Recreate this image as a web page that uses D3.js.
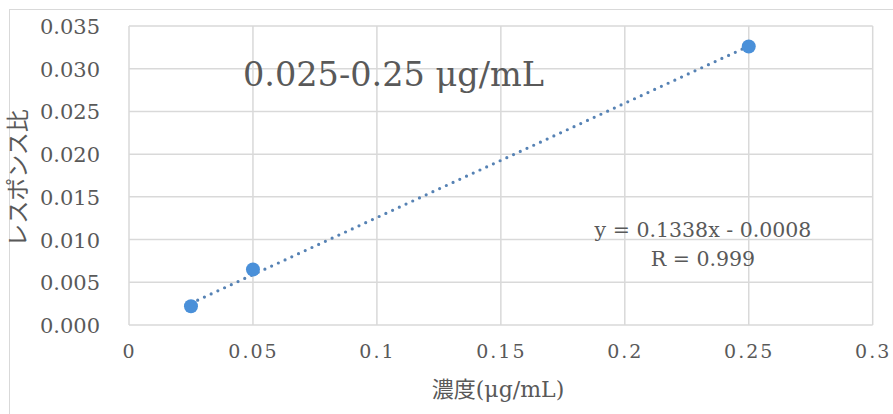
<!DOCTYPE html>
<html>
<head>
<meta charset="utf-8">
<script src="https://cdn.jsdelivr.net/npm/d3@7"></script>
<style>
  body { margin: 0; background: #fff; }
  text { fill: #595959; }
</style>
</head>
<body>
<svg id="chart"></svg>
<script>
// concentration (ug/mL) and response ratio
const concentrations = [0.025, 0.05, 0.25];
const responseRatios = [0.0022, 0.0065, 0.0326];
const xTicks = [0, 0.05, 0.1, 0.15, 0.2, 0.25, 0.3];
const yTicks = [0, 0.005, 0.010, 0.015, 0.020, 0.025, 0.030, 0.035];
const slope = 0.1338;
const intercept = -0.0008;

const width = 893, height = 414;
const margin = {top: 26, right: 20, bottom: 89, left: 129};
const serif = "'DejaVu Serif', 'Liberation Serif', serif";

const svg = d3.select('#chart')
    .attr('width', width)
    .attr('height', height);

// outer chart frame
svg.append('rect')
    .attr('x', 9.5).attr('y', 9.5)
    .attr('width', width).attr('height', height)
    .attr('fill', 'none')
    .attr('stroke', '#d9d9d9');

const x = d3.scaleLinear()
    .domain([0, 0.3])
    .range([margin.left, width - margin.right - 0.3]);
const y = d3.scaleLinear()
    .domain([0, 0.035])
    .range([height - margin.bottom, margin.top]);

// gridlines
svg.append('g').selectAll('line')
    .data(xTicks)
    .join('line')
    .attr('x1', d => x(d)).attr('x2', d => x(d))
    .attr('y1', y(0)).attr('y2', y(0.035))
    .attr('stroke', '#d9d9d9').attr('stroke-width', 1.5);
svg.append('g').selectAll('line')
    .data(yTicks)
    .join('line')
    .attr('x1', x(0)).attr('x2', x(0.3))
    .attr('y1', d => y(d)).attr('y2', d => y(d))
    .attr('stroke', '#d9d9d9').attr('stroke-width', 1.5);

// axes (labels only)
const xAxis = svg.append('g')
    .attr('transform', `translate(0, ${y(0)})`)
    .call(d3.axisBottom(x).tickValues(xTicks).tickSize(0).tickPadding(20)
        .tickFormat(d => d3.format('~g')(d)));
const yAxis = svg.append('g')
    .attr('transform', `translate(${x(0) - 29}, 0)`)
    .call(d3.axisLeft(y).tickValues(yTicks).tickSize(0).tickPadding(0)
        .tickFormat(d3.format('.3f')));
[xAxis, yAxis].forEach(a => {
    a.select('.domain').remove();
    a.selectAll('text')
        .attr('font-family', serif)
        .attr('fill', '#595959');
});
yAxis.selectAll('text').attr('font-size', 21).attr('dy', '0.36em');
xAxis.selectAll('text').attr('font-size', 19).attr('letter-spacing', 2);

// trendline
svg.append('line')
    .attr('x1', x(concentrations[0]))
    .attr('y1', y(slope * concentrations[0] + intercept))
    .attr('x2', x(concentrations[2]))
    .attr('y2', y(slope * concentrations[2] + intercept))
    .attr('stroke', '#5682b4')
    .attr('stroke-width', 3.2)
    .attr('stroke-linecap', 'round')
    .attr('stroke-dasharray', '0 7.4');

// points
svg.append('g').selectAll('circle')
    .data(concentrations)
    .join('circle')
    .attr('cx', d => x(d))
    .attr('cy', (d, i) => y(responseRatios[i]))
    .attr('r', 7)
    .attr('fill', '#4a90d9');

// range label
svg.append('text')
    .attr('x', 243).attr('y', 86)
    .attr('font-family', serif)
    .attr('font-size', 33.5)
    .text('0.025-0.25 μg/mL');

// regression equation
const eq = svg.append('text')
    .attr('text-anchor', 'middle')
    .attr('font-family', serif)
    .attr('font-size', 20.5);
eq.append('tspan').attr('x', 703).attr('y', 237).text('y = 0.1338x - 0.0008');
eq.append('tspan').attr('x', 703).attr('y', 266).text('R = 0.999');

// axis titles
svg.append('text')
    .attr('x', 498).attr('y', 397)
    .attr('text-anchor', 'middle')
    .attr('font-family', "'DejaVu Serif', 'Noto Sans CJK JP', serif")
    .attr('font-size', 22)
    .text('濃度(μg/mL)');
svg.append('text')
    .attr('transform', 'translate(26, 178) rotate(-90)')
    .attr('text-anchor', 'middle')
    .attr('font-family', "'Noto Sans CJK JP', sans-serif")
    .attr('font-size', 23)
    .text('レスポンス比');
</script>
</body>
</html>
